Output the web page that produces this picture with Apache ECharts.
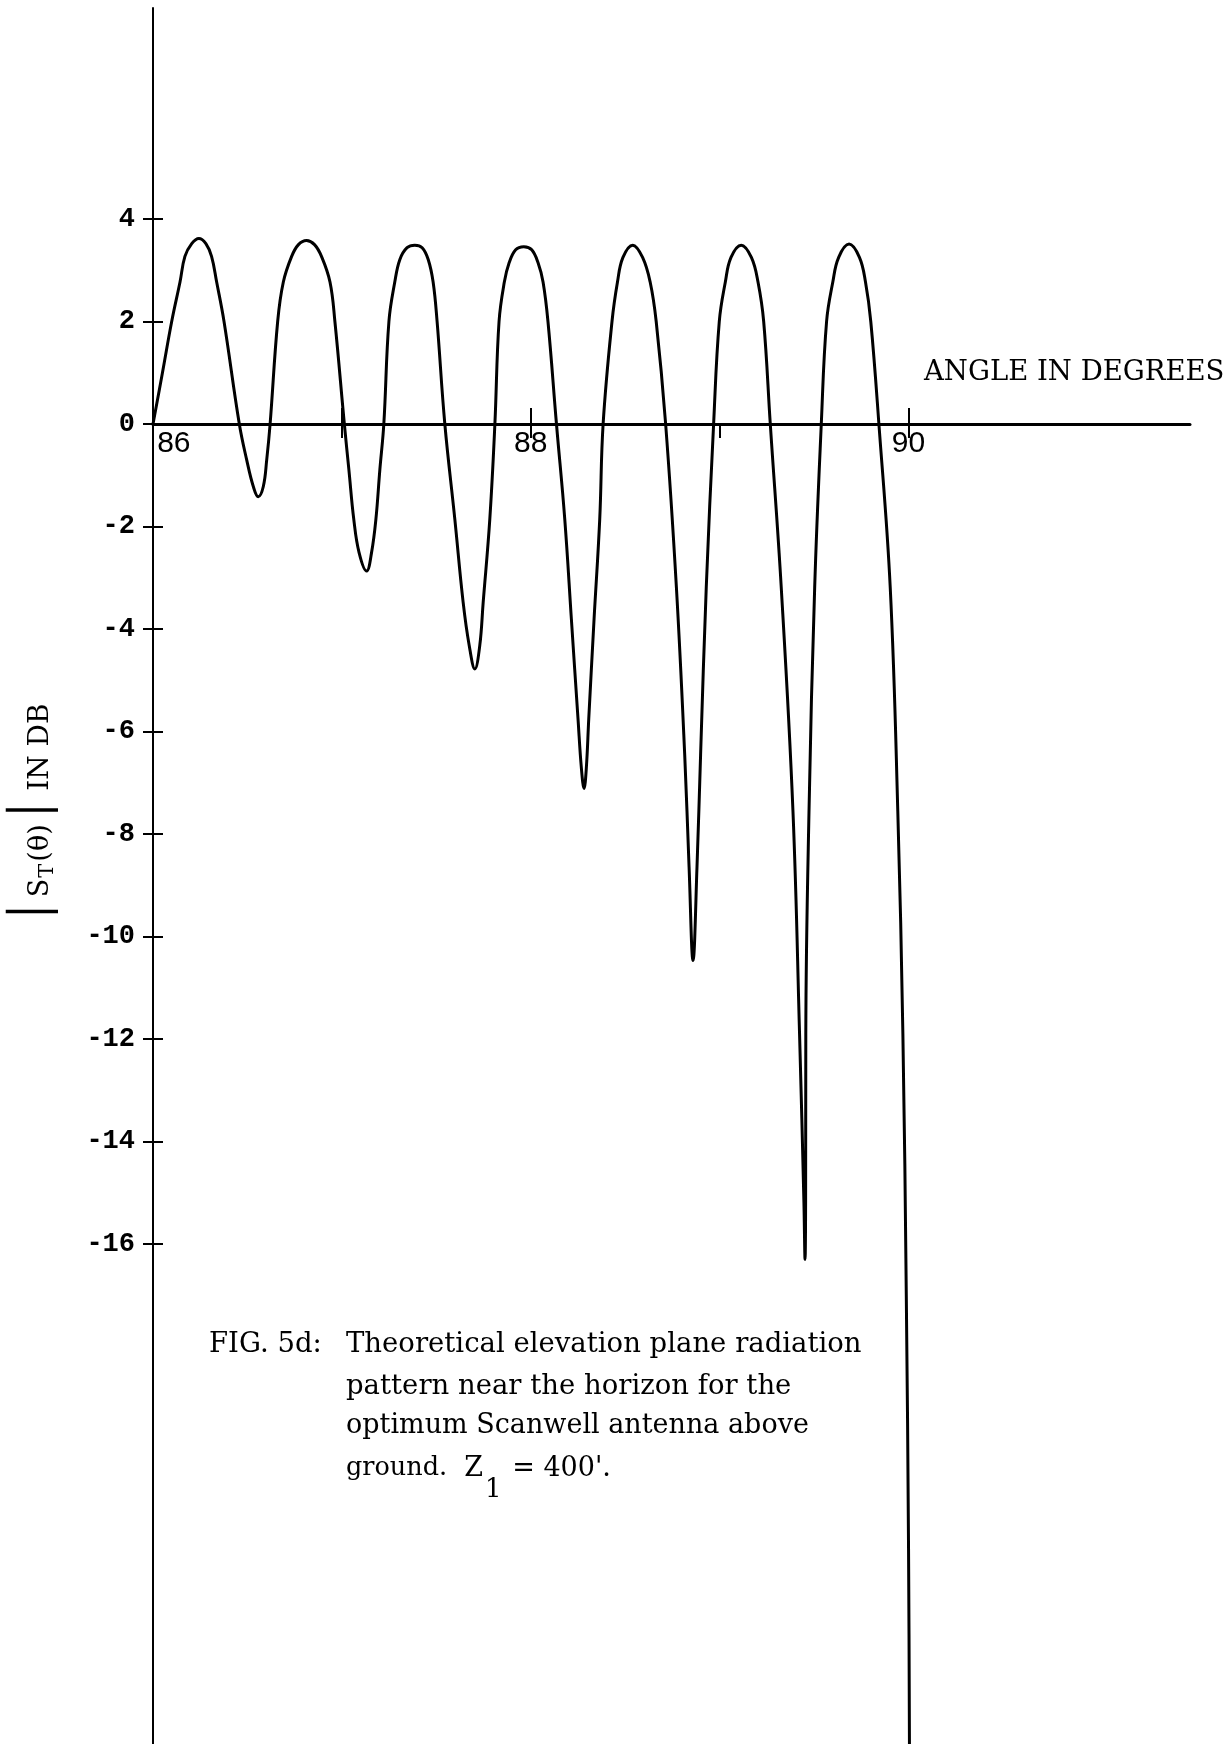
<!DOCTYPE html>
<html>
<head>
<meta charset="utf-8">
<script src="https://cdn.jsdelivr.net/npm/echarts@6/dist/echarts.min.js"></script>
<style>
  html, body { margin: 0; padding: 0; background: #ffffff; }
  #chart { width: 1231px; height: 1744px; }
</style>
</head>
<body>
<div id="chart"></div>
<script>
// ---- data ----
const angleDeg = [
  86.000, 86.050, 86.099, 86.143, 86.169, 86.205, 86.243, 86.280, 86.310, 86.337, 86.376, 86.457,
  86.496, 86.531, 86.557, 86.584, 86.602, 86.620,
  86.660, 86.690, 86.734, 86.770, 86.813, 86.855, 86.892, 86.937, 86.963, 87.013,
  87.037, 87.063, 87.091, 87.131, 87.157, 87.180, 87.201, 87.222,
  87.249, 87.280, 87.307, 87.345, 87.386, 87.425, 87.457, 87.483, 87.504, 87.545,
  87.598, 87.642, 87.674, 87.704, 87.730, 87.748, 87.783, 87.810,
  87.832, 87.860, 87.885, 87.920, 87.963, 88.005, 88.039, 88.065, 88.091, 88.136,
  88.180, 88.215, 88.250, 88.268, 88.282, 88.294, 88.307, 88.335, 88.365, 88.383,
  88.430, 88.459, 88.488, 88.540, 88.592, 88.632, 88.664, 88.714,
  88.771, 88.815, 88.838, 88.859, 88.880, 88.899, 88.929, 88.968,
  88.998, 89.030, 89.060, 89.114, 89.168, 89.203, 89.233, 89.268,
  89.326, 89.388, 89.423, 89.446, 89.452, 89.455, 89.456, 89.473, 89.503, 89.538,
  89.566, 89.599, 89.630, 89.685, 89.740, 89.772, 89.800, 89.843,
  89.903, 89.943, 89.970, 89.988, 90.000, 90.006
];
const gainDb = [
  0.00, 1.00, 2.00, 2.77, 3.27, 3.52, 3.62, 3.52, 3.27, 2.77, 2.00, 0.00,
  -0.70, -1.22, -1.42, -1.22, -0.70, 0.00,
  2.00, 2.77, 3.27, 3.50, 3.58, 3.50, 3.27, 2.77, 2.00, 0.00,
  -0.89, -1.86, -2.51, -2.87, -2.51, -1.86, -0.89, 0.00,
  2.00, 2.77, 3.21, 3.44, 3.49, 3.44, 3.21, 2.77, 2.00, 0.00,
  -1.86, -3.48, -4.32, -4.78, -4.32, -3.48, -1.86, 0.00,
  2.00, 2.77, 3.14, 3.40, 3.46, 3.40, 3.14, 2.77, 2.00, 0.00,
  -1.86, -3.81, -5.75, -6.72, -7.11, -6.72, -5.75, -3.81, -1.86, 0.00,
  2.00, 2.77, 3.25, 3.49, 3.25, 2.77, 2.00, 0.00,
  -3.19, -6.46, -8.64, -10.47, -8.64, -6.46, -3.19, 0.00,
  2.00, 2.77, 3.25, 3.49, 3.25, 2.77, 2.00, 0.00,
  -3.19, -7.55, -11.91, -15.18, -16.30, -15.18, -11.91, -7.55, -3.19, 0.00,
  2.00, 2.77, 3.25, 3.51, 3.25, 2.77, 2.00, 0.00,
  -3.19, -7.55, -11.91, -16.99, -22.00, -27.00
];
const yLabelValues = [4, 2, 0, -2, -4, -6, -8, -10, -12, -14, -16];
const xLabelValues = [86, 88, 90];
const xTickDown = [87, 88, 89, 90];
const xTickUp = [87, 88, 90];
const xAxisTitle = 'ANGLE IN DEGREES';
const captionHead = 'FIG. 5d:';
const captionLines = [
  'Theoretical elevation plane radiation',
  'pattern near the horizon for the',
  'optimum Scanwell antenna above'
];

const seriesData = angleDeg.map((a, i) => [a, gainDb[i]]);

const chart = echarts.init(document.getElementById('chart'), null, { renderer: 'canvas' });

const X_MIN = 86, X_MAX = 91.49, Y_MIN = -25.756, Y_MAX = 8.117;
const GRID_TOP = 8, GRID_H = 1736;
// distance from the grid bottom up to the zero line (keeps the labelled x axis on y = 0)
const ZERO_OFFSET = -GRID_H * (0 - Y_MIN) / (Y_MAX - Y_MIN);
const serif = '"DejaVu Serif", "Liberation Serif", serif';
const narrow = '"Liberation Sans Narrow", "Liberation Sans", sans-serif';

const option = {
  backgroundColor: '#ffffff',
  animation: false,
  grid: { left: 153, right: 41, top: GRID_TOP, height: GRID_H, containLabel: false, outerBoundsMode: 'none' },
  xAxis: [
    {
      type: 'value', min: X_MIN, max: X_MAX, position: 'bottom', offset: ZERO_OFFSET,
      axisLine: { show: true, onZero: false, lineStyle: { color: '#000', width: 3 } },
      axisTick: { show: true, customValues: xTickDown, length: 14, inside: false, lineStyle: { color: '#000', width: 2 } },
      axisLabel: {
        show: true, customValues: xLabelValues, margin: 5, color: '#000', fontFamily: narrow, fontSize: 30,
        formatter: v => (v === X_MIN ? '     ' + v : String(v))
      },
      splitLine: { show: false }
    },
    {
      type: 'value', min: X_MIN, max: X_MAX, position: 'top',
      axisLine: { show: false, onZero: true },
      axisTick: { show: true, customValues: xTickUp, length: 16, inside: false, lineStyle: { color: '#000', width: 2 } },
      axisLabel: { show: false },
      splitLine: { show: false }
    }
  ],
  yAxis: [
    {
      type: 'value', min: Y_MIN, max: Y_MAX, position: 'left',
      axisLine: { show: true, onZero: false, lineStyle: { color: '#000', width: 2 } },
      axisTick: { show: true, customValues: yLabelValues, length: 10, inside: false, lineStyle: { color: '#000', width: 2 } },
      axisLabel: {
        show: true, customValues: yLabelValues, margin: 18, color: '#000',
        fontFamily: '"Liberation Mono", monospace', fontSize: 27, fontWeight: 'bold'
      },
      splitLine: { show: false }
    },
    {
      type: 'value', min: Y_MIN, max: Y_MAX, position: 'left',
      axisLine: { show: false, onZero: false },
      axisTick: { show: true, customValues: yLabelValues.filter(v => v !== 0), length: 10, inside: true, lineStyle: { color: '#000', width: 2 } },
      axisLabel: { show: false },
      splitLine: { show: false }
    }
  ],
  series: [{
    type: 'line',
    data: seriesData,
    xAxisIndex: 0, yAxisIndex: 0,
    showSymbol: false,
    smooth: 0.4,
    clip: true,
    lineStyle: { color: '#000', width: 3 }
  }],
  graphic: [
    {
      type: 'text', left: 924, top: 359,
      style: { text: xAxisTitle, fill: '#000', font: '27.5px ' + serif }
    },
    {
      type: 'text', x: 42, y: 814, rotation: Math.PI / 2,
      style: {
        text: '{bar|│}{t|S}{sub|T}{t|(θ)}{bar|│}{d|IN DB}',
        align: 'center', verticalAlign: 'middle', fill: '#000',
        rich: {
          bar: { fontSize: 44, fontFamily: '"DejaVu Sans Mono", monospace', lineHeight: 56, verticalAlign: 'top', fill: '#000' },
          t: { fontSize: 27, fontFamily: serif, lineHeight: 30, padding: [13, 1, 0, 1], verticalAlign: 'top', fill: '#000' },
          sub: { fontSize: 21, fontFamily: serif, lineHeight: 30, padding: [23, 1, 0, 0], verticalAlign: 'top', fill: '#000' },
          d: { fontSize: 28, fontFamily: serif, lineHeight: 30, padding: [13, 0, 0, 6], verticalAlign: 'top', fill: '#000' }
        }
      }
    },
    {
      type: 'text', x: 209, y: 1345,
      style: { text: captionHead, fill: '#000', font: '27.5px ' + serif, verticalAlign: 'middle' }
    },
    {
      type: 'text', x: 346, y: 1345,
      style: { text: captionLines[0], fill: '#000', font: '27.5px ' + serif, verticalAlign: 'middle' }
    },
    {
      type: 'text', x: 346, y: 1387,
      style: { text: captionLines[1], fill: '#000', font: '27.5px ' + serif, verticalAlign: 'middle' }
    },
    {
      type: 'text', x: 346, y: 1426,
      style: { text: captionLines[2], fill: '#000', font: '27px ' + serif, verticalAlign: 'middle' }
    },
    {
      type: 'text', x: 346, y: 1455,
      style: {
        text: "{g|ground.}{t|  Z}{sub|1}{t| = 400'.}",
        verticalAlign: 'top', fill: '#000',
        rich: {
          g: { fontSize: 25.5, fontFamily: serif, lineHeight: 34, verticalAlign: 'top', fill: '#000' },
          t: { fontSize: 27, fontFamily: serif, lineHeight: 34, verticalAlign: 'top', fill: '#000' },
          sub: { fontSize: 26, fontFamily: serif, lineHeight: 34, padding: [22, 2, 0, 2], verticalAlign: 'top', fill: '#000' }
        }
      }
    }
  ]
};

chart.setOption(option);
</script>
</body>
</html>
